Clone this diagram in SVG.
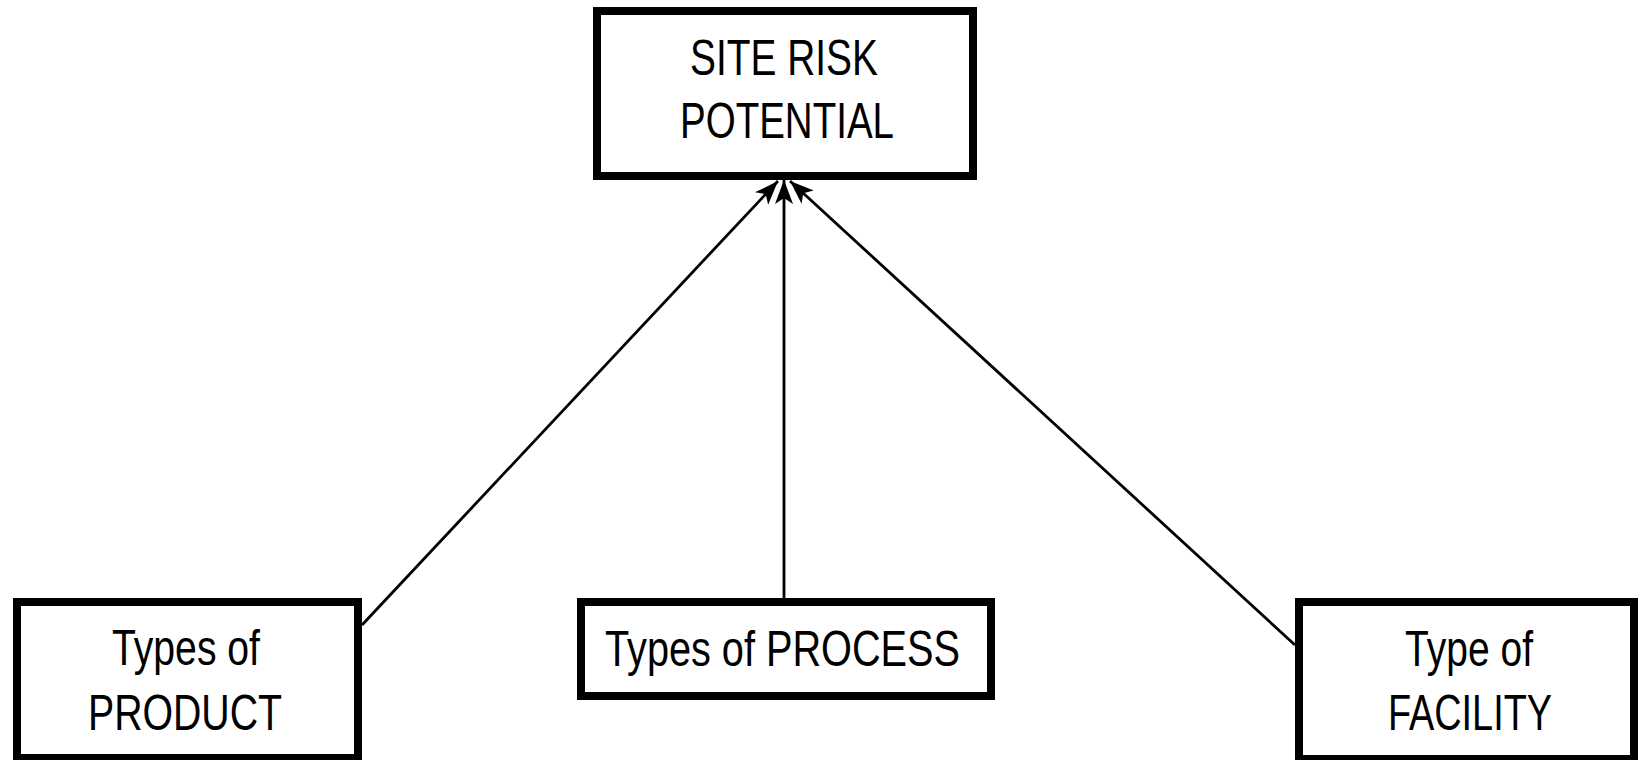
<svg xmlns="http://www.w3.org/2000/svg" width="1639" height="760" viewBox="0 0 1639 760">
<style>
.box{fill:#fff;stroke:#000;stroke-width:8}
.lbl{font-family:"Liberation Sans",Arial,sans-serif;font-size:50px;fill:#000;text-anchor:middle}
.conn{stroke:#000;stroke-width:2.8;fill:none;marker-end:url(#arr)}
</style>
<defs>
<marker id="arr" markerUnits="userSpaceOnUse" markerWidth="30" markerHeight="30" refX="24" refY="0" orient="auto" overflow="visible">
<path d="M0,-9 L24,0 L0,9 L6,0 z" fill="#000"/>
</marker>
</defs>
<rect width="1639" height="760" fill="#fff"/>
<g id="connectors">
<line class="conn" x1="362" y1="625" x2="778" y2="181"/>
<line class="conn" x1="784" y1="598" x2="784" y2="180"/>
<line class="conn" x1="1295" y1="645" x2="790" y2="181"/>
</g>
<g id="site-risk">
<rect class="box" x="597" y="11" width="376" height="165"/>
<text class="lbl" x="784" y="75" textLength="188" lengthAdjust="spacingAndGlyphs">SITE RISK</text>
<text class="lbl" x="787" y="138" textLength="214" lengthAdjust="spacingAndGlyphs">POTENTIAL</text>
</g>
<g id="product">
<rect class="box" x="17" y="602" width="341" height="156"/>
<text class="lbl" x="186" y="665" textLength="148" lengthAdjust="spacingAndGlyphs">Types of</text>
<text class="lbl" x="185" y="730" textLength="194" lengthAdjust="spacingAndGlyphs">PRODUCT</text>
</g>
<g id="process">
<rect class="box" x="581" y="602" width="410" height="94"/>
<text class="lbl" x="782.5" y="666" textLength="355" lengthAdjust="spacingAndGlyphs">Types of PROCESS</text>
</g>
<g id="facility">
<rect class="box" x="1299" y="602" width="335" height="157"/>
<text class="lbl" x="1469" y="666" textLength="128" lengthAdjust="spacingAndGlyphs">Type of</text>
<text class="lbl" x="1470" y="730" textLength="164" lengthAdjust="spacingAndGlyphs">FACILITY</text>
</g>
</svg>
